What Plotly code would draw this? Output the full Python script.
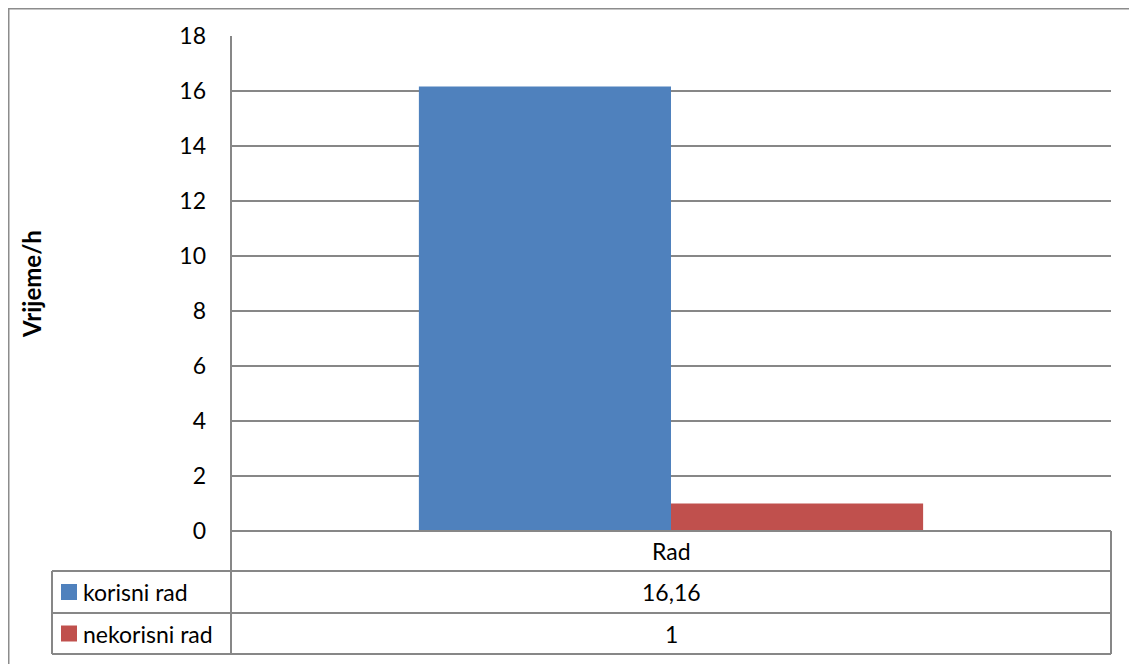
import plotly.graph_objects as go

# data
categories = ["Rad"]
series_names = ["korisni rad", "nekorisni rad"]
series_values = [[16.16], [1]]
series_colors = ["#4F81BD", "#C0504D"]
y_title = "Vrijeme/h"

# the page body adds an 8px margin, so the figure is shrunk by that much
OFF = 8
W, H = 1137 - OFF, 664 - OFF
L, R, T, B = 231, 1111, 36, 531  # plot area, in reference pixels
grid = "#878787"
font_main = "Lato"
fsize = 23


def px(x):
    return (x - L) / (R - L)


def py(y):
    return (B - y) / (B - T)


fig = go.Figure()
for name, vals, col in zip(series_names, series_values, series_colors):
    fig.add_trace(go.Bar(x=categories, y=vals, name=name, marker=dict(color=col, line=dict(width=0)),
                         showlegend=False))

shapes = []
annotations = []

# data table rows
row_edges = [531, 571, 613, 654]
for y in row_edges:
    x0 = L if y == row_edges[0] else 52
    shapes.append(dict(type="line", xref="paper", yref="paper", x0=px(x0), x1=1, y0=py(y), y1=py(y),
                       line=dict(color=grid, width=2)))
# vertical lines
shapes.append(dict(type="line", xref="paper", yref="paper", x0=0, x1=0, y0=1, y1=py(654),
                   line=dict(color=grid, width=2)))
shapes.append(dict(type="line", xref="paper", yref="paper", x0=1, x1=1, y0=py(531), y1=py(654),
                   line=dict(color=grid, width=2)))
shapes.append(dict(type="line", xref="paper", yref="paper", x0=px(52), x1=px(52), y0=py(571), y1=py(654),
                   line=dict(color=grid, width=2)))
# outer border (chart frame)
shapes.append(dict(type="rect", xref="paper", yref="paper", x0=px(8.5), x1=px(1145), y0=py(8.5), y1=py(672),
                   line=dict(color="#8c8c8c", width=2), layer="below"))

# category label row
for c in categories:
    annotations.append(dict(x=c, xref="x", y=py(551), yref="paper", text=c, showarrow=False,
                            font=dict(family=font_main, size=fsize, color="black"), yanchor="middle"))

# series rows
for i, (name, vals, col) in enumerate(zip(series_names, series_values, series_colors)):
    yc = (row_edges[i + 1] + row_edges[i + 2]) / 2
    shapes.append(dict(type="rect", xref="paper", yref="paper", x0=px(61), x1=px(77), y0=py(yc - 8), y1=py(yc + 8),
                       fillcolor=col, line=dict(width=0)))
    annotations.append(dict(x=px(81), xref="paper", y=py(yc), yref="paper", text=name, showarrow=False,
                            xanchor="left", yanchor="middle", font=dict(family=font_main, size=fsize, color="black")))
    for c, v in zip(categories, vals):
        annotations.append(dict(x=c, xref="x", y=py(yc), yref="paper", text=f"{v:g}".replace(".", ","),
                                showarrow=False, yanchor="middle",
                                font=dict(family=font_main, size=fsize, color="black")))

# axis title
annotations.append(dict(x=px(31), xref="paper", y=py(284), yref="paper", text=f"<b>{y_title}</b>",
                        textangle=-90, showarrow=False, xanchor="center", yanchor="middle",
                        font=dict(family=font_main, size=24, color="black")))

fig.update_layout(
    width=W, height=H,
    margin=dict(l=L - OFF, r=W - (R - OFF), t=T - OFF, b=H - (B - OFF)),
    paper_bgcolor="white", plot_bgcolor="white",
    barmode="group", bargap=0.427, bargroupgap=0,
    xaxis=dict(showticklabels=False, showgrid=False, zeroline=False, showline=False, ticks=""),
    yaxis=dict(range=[0, 18], dtick=2, showgrid=True, gridcolor=grid, gridwidth=2, zeroline=True,
               zerolinecolor=grid, zerolinewidth=2, showline=False, ticks="",
               ticklabelstandoff=24, tickfont=dict(family=font_main, size=fsize, color="black")),
    shapes=shapes,
    annotations=annotations,
    font=dict(family=font_main),
)

fig.write_html("out.html")
